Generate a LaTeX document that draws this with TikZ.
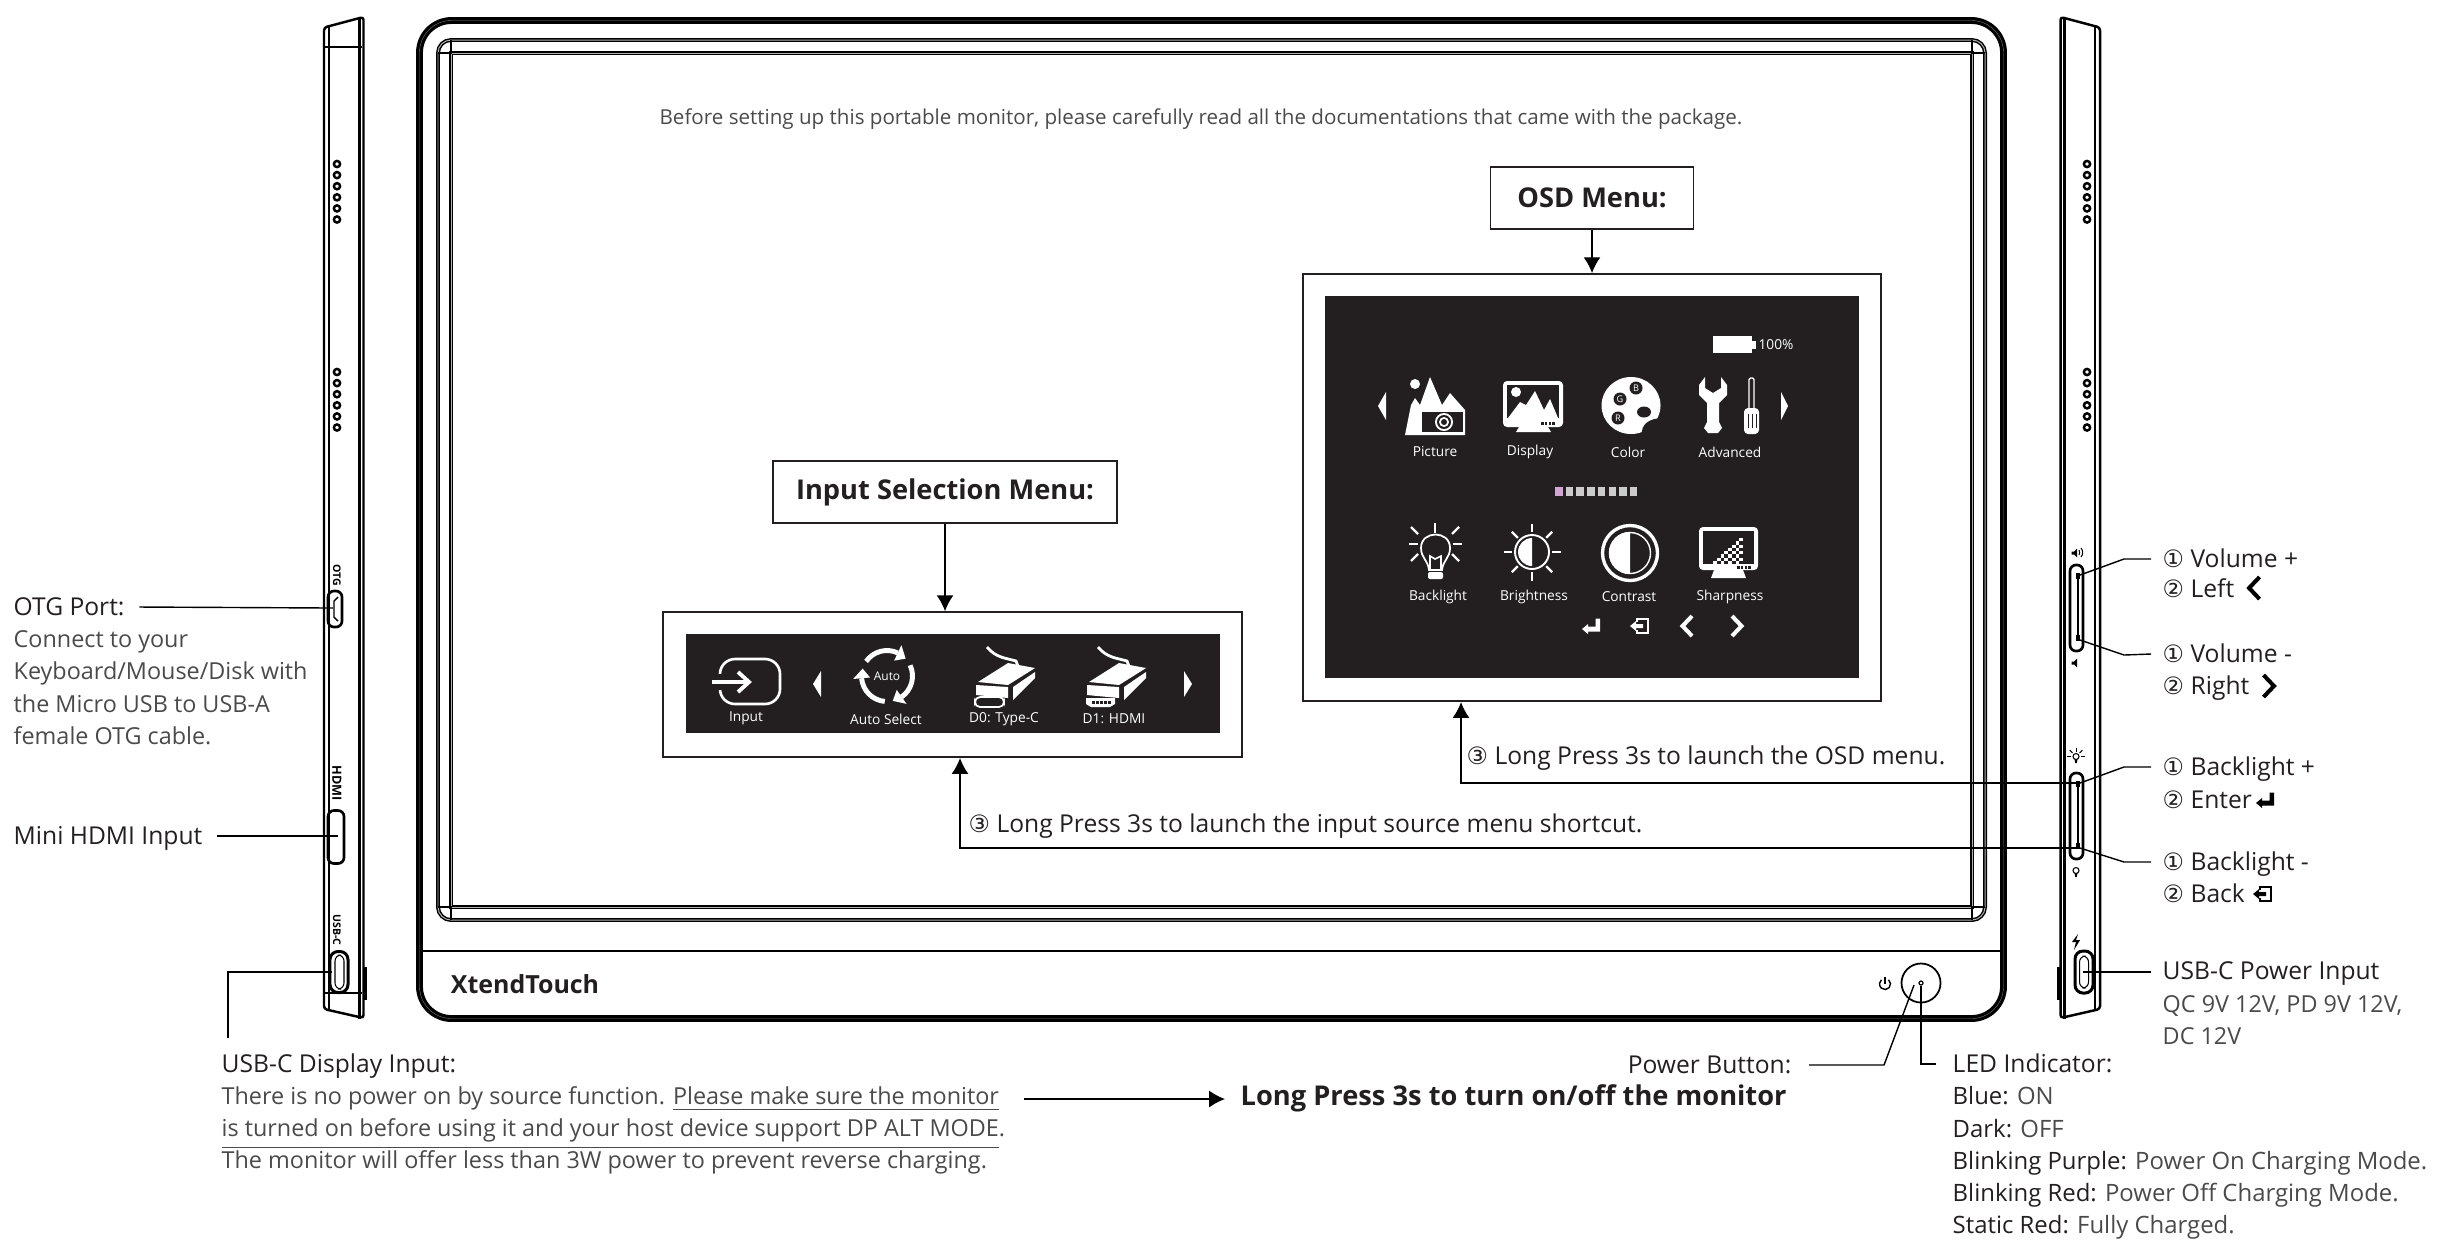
\documentclass[tikz,border=0pt]{standalone}
\usepackage{fontspec}
\setmainfont{Open Sans}
\newfontfamily\symfont{DejaVu Sans}
\usetikzlibrary{positioning,arrows.meta,calc}
\definecolor{panel}{HTML}{231F20}
\definecolor{softink}{HTML}{4A4A4A}
\newcommand{\bodyfont}{\fontsize{7}{9.15}\selectfont}
\newcommand{\softfont}{\fontsize{6.65}{9.15}\selectfont}
\newcommand{\panelfont}{\fontsize{3.9}{5}\selectfont}
\newcommand{\soft}[1]{\textcolor{softink}{#1}}
\newcommand{\circnum}[1]{{\symfont\fontsize{6.8}{9}\selectfont #1}}
\tikzset{
  bodytext/.style={inner sep=0,text=panel,font=\bodyfont,anchor=west,text height=6.3pt,text depth=1.25pt},
  blocktext/.style={inner sep=0,text=softink,font=\softfont,anchor=north west,align=left},
  titlebox/.style={draw=panel,line width=0.4pt,fill=white,inner sep=0,font=\fontsize{7.75}{9}\selectfont\bfseries,text=panel},
  menubox/.style={draw=panel,line width=0.45pt,inner sep=0},
  menulabel/.style={inner sep=0,text=white,font=\panelfont},
  keybox/.style={draw,line width=0.75pt,rounded corners=0.06cm,inner sep=0,minimum width=0.13cm,minimum height=0.86cm},
  portlabel/.style={inner sep=0,rotate=-90,font=\fontsize{3}{3}\selectfont\bfseries},
  framepen/.style={draw=black,line width=0.93pt,double=gray,double distance=0.1pt},
  bezelpen/.style={draw=black,line width=0.42pt,double=gray!60,double distance=0.28pt},
  % Seitenansicht, Koordinaten der rechten Seite
  sideshell/.pic={
    \draw[line width=0.7pt,rounded corners=0.03cm] (2060.5,1018) -- (2060.5,17) -- (2100,27.5) -- (2100,1009) -- cycle;
    \draw[line width=0.6pt] (2064.5,18) -- (2064.5,1019);
    \draw[line width=0.45pt] (2095,27) -- (2095,1010);
    \fill (2057,967) rectangle (2060,1000);
    \foreach \y in {0,...,5} {
      \draw[line width=0.7pt] (2087,164+11.1*\y) circle (3.1);
      \draw[line width=0.7pt] (2087,372+11.1*\y) circle (3.1);
    }
  },
  enterkey/.pic={
    \fill (9,-7.5) -- (9,5.5) -- (-3,5.5) -- (-3,8) -- (-9,3) -- (-3,-2) -- (-3,0.5) -- (4.5,0.5) -- (4.5,-7.5) -- cycle;
  },
  backkey/.pic={
    \draw[line width=0.8pt] (-3,-4) -- (-3,-7) -- (8,-7) -- (8,7) -- (-3,7) -- (-3,4);
    \fill (-10,0) -- (-4,-5) -- (-4,-2) -- (3,-2) -- (3,2) -- (-4,2) -- (-4,5) -- cycle;
  },
  leftchev/.pic={
    \draw[line width=1.15pt] (5,-10) -- (-4.5,0) -- (5,10);
  },
  speakerkey/.pic={
    \fill (-4.5,-1.5) -- (-2,-1.5) -- (1,-4.5) -- (1,4.5) -- (-2,1.5) -- (-4.5,1.5) -- cycle;
  },
  tinybulb/.pic={
    \draw[line width=0.3pt] (0,-1.5) circle (3);
    \fill (-1.5,1) -- (1.5,1) -- (0.8,5) -- (-0.8,5) -- cycle;
  },
  plugbody/.pic={
    \draw[line width=0.8pt] (13,1) .. controls (22,12) and (32,12) .. (42,15) -- (45,23);
    \fill (4,36) -- (34,17) -- (61,22) -- (34,39) -- cycle;
    \fill (39,41) -- (61,26) -- (61,32) -- (39,54) -- cycle;
    \fill (2,39) -- (34,41) -- (34,52) -- (2,49) -- cycle;
  },
}
\begin{document}
\begin{tikzpicture}[>={Latex[length=4.5pt,width=4.8pt]},x=0.01cm,y=-0.01cm]
\useasboundingbox (0,0) rectangle (2443,1241);
% Monitor vorne
\draw[framepen,rounded corners=0.32cm] (419.5,20.5) rectangle (2003.5,1018.5);
\draw[line width=0.75pt] (422,951) -- (2001,951);
\draw[bezelpen,rounded corners=0.13cm] (438,40) rectangle (1985,920);
\draw[bezelpen] (451,53) rectangle (1972,907);
\foreach \x/\y/\u/\v in {451/53/438/40,1972/53/1985/40,451/907/438/920,1972/907/1985/920} {
  \draw[line width=0.4pt] (\x,\v) -- (\x,\y) -- (\u,\y);
}
\node (hint) [bodytext,anchor=center,text=softink,font=\fontsize{5.85}{8}\selectfont] at (1201,116) {Before setting up this portable monitor, please carefully read all the documentations that came with the package.};
\node (brand) [inner sep=0,text=panel,font=\fontsize{7.1}{8}\selectfont\bfseries] at (525,984) {XtendTouch};
% Power-Taste
\node (powerbtn) [draw,circle,line width=0.5pt,inner sep=0,minimum size=0.39cm] at (1921,983) {};
\node (ledspot) [draw,circle,line width=0.35pt,inner sep=0,minimum size=0.04cm] at (1921,983) {};
\draw[line width=0.4pt] (1885,984) ++(-50:5.5) arc[start angle=-50,end angle=230,radius=5.5];
\draw[line width=0.4pt] (1885,977) -- (1885,984);
% Kasten OSD
\node (osdtitle) [titlebox,minimum width=2.03cm,minimum height=0.62cm] at (1592,198) {OSD Menu:};
\node (osdbox) [menubox,minimum width=5.78cm,minimum height=4.27cm] at (1592,487.5) {};
\draw[->] (osdtitle.south) -- (osdbox.north);
\fill[panel] (1325,296) rectangle (1859,678);
% Kasten Eingang
\node (inputtitle) [titlebox,minimum width=3.44cm,minimum height=0.62cm] at (945,492) {Input Selection Menu:};
\node (inputbox) [menubox,minimum width=5.79cm,minimum height=1.45cm] at (952.5,684.5) {};
\draw[->] (inputtitle.south) -- (inputtitle.south |- inputbox.north);
\fill[panel] (686,634) rectangle (1220,733);
% Beschriftungen in den Menues
\foreach \n/\x/\y/\t in {oPicture/1435/452/Picture,oDisplay/1530/452/Display,oColor/1628/452/Color,oAdvanced/1730/452/Advanced,
  oBacklight/1438/597/Backlight,oBrightness/1534/597/Brightness,oContrast/1629/597/Contrast,oSharpness/1730/597/Sharpness,
  oBattery/1776/345/100\%,iInput/746/718/Input,iAuto/886/719/Auto Select,iTypeC/1004/719/D0: Type-C,iHdmi/1114/719/D1: HDMI} {
  \node (\n) [menulabel] at (\x,\y) {\t};
}
% Pfeilchen im OSD
\foreach \a/\b in {1378/1386,1788/1781} \fill[white] (\a,406) -- (\b,392) -- (\b,420) -- cycle;
\foreach \a/\b in {813/821,1192/1184} \fill[white] (\a,684) -- (\b,671) -- (\b,697) -- cycle;
% Batterie und Leiste
\fill[white] (1713,336) rectangle (1752,353);
\fill[white] (1752,341) rectangle (1756,349);
\foreach \i in {0,...,7} \fill[gray!40] (1555+10.7*\i,487) rectangle ++(7.5,9);
\fill[violet!35] (1555,487) rectangle ++(7.5,9);
% Picture
\begin{scope}[white]
\fill (1415,384) circle (5);
\fill (1405,435) -- (1411,405) -- (1415,398) -- (1420,405) -- (1430,377) -- (1442,405) -- (1450,393) -- (1465,410) -- (1465,435) -- cycle;
\fill[panel] (1422,412) rectangle (1463,432);
\fill (1444,422) circle (9);
\fill[panel] (1444,422) circle (7);
\fill (1444,422) circle (5);
\fill[panel] (1444,422) circle (3);
% Display
\fill[rounded corners=0.04cm] (1503,381) rectangle (1563,427);
\fill[panel] (1507,385) rectangle (1559,418);
\fill (1519,427) -- (1548,427) -- (1551,432) -- (1516,432) -- cycle;
\fill (1516,392) circle (5);
\fill (1508,418) -- (1520,402) -- (1526,405) -- (1535,391) -- (1544,410) -- (1550,399) -- (1558,418) -- cycle;
\foreach \i in {0,...,3} \fill[panel] (1541+3.8*\i,422) rectangle ++(2.5,2.5);
% Color
\fill (1631,405.5) ellipse (29.5 and 28.5);
\fill[panel] (1642,436) .. controls (1640,424) and (1650,418) .. (1663,418) -- (1665,436) -- cycle;
\foreach \n/\x/\y/\t in {pB/1636/388/B,pG/1620/399/G,pR/1618/418/R} {
  \fill[panel] (\x,\y) circle (6.5);
  \node (\n) [inner sep=0,text=white,font=\fontsize{2.6}{3}\selectfont] at (\x,\y) {\t};
}
\fill[panel] (1644,412) ellipse (7 and 5.5);
% Advanced
\fill (1705,377) -- (1705,388) -- (1713,393) -- (1721,388) -- (1721,377) -- (1727,385) -- (1727,395) -- (1719,403) -- (1719,422) -- (1722,428) -- (1718,433) -- (1708,433) -- (1704,428) -- (1707,422) -- (1707,403) -- (1699,395) -- (1699,385) -- cycle;
\draw[line width=0.4pt,rounded corners=0.015cm] (1749,408) -- (1749,378) -- (1754,378) -- (1754,408);
\fill[rounded corners=0.04cm] (1744,408) rectangle (1759,434);
\foreach \x in {1748,1752,1756} \draw[panel,line width=0.2pt] (\x,414) -- (\x,428);
% Backlight
\draw[line width=0.5pt] (1429,570) .. controls (1428,560) and (1421,558) .. (1421,548) .. controls (1421,530) and (1450,530) .. (1450,548) .. controls (1450,558) and (1443,560) .. (1442,570) -- cycle;
\fill[rounded corners=0.02cm] (1428,572) rectangle (1443,579);
\draw[line width=0.45pt] (1430,570) -- (1430,556) -- (1435,559) -- (1441,556) -- (1441,570);
\foreach \a/\b/\c/\d in {1435/523/1435/533,1409/544/1418/544,1453/544/1462/544,1411/527/1418/534,1459/527/1452/534,1411/561/1418/554,1459/561/1452/554} {
  \draw[line width=0.65pt] (\a,\b) -- (\c,\d);
}
% Brightness
\draw[line width=0.55pt] (1532,552) circle (17);
\fill (1532,552) ++(90:14) arc[start angle=90,end angle=270,radius=14] -- cycle;
\foreach \a in {0,45,...,315} \draw[line width=0.65pt] (1532,552) ++(\a:20) -- ++(\a:8.5);
% Contrast
\draw[line width=0.95pt] (1630,553) circle (27.5);
\fill (1630,553) ++(90:21) arc[start angle=90,end angle=270,radius=21] -- cycle;
\draw[line width=0.4pt] (1630,553) circle (20.5);
% Sharpness
\fill[rounded corners=0.04cm] (1699,527) rectangle (1758,570);
\fill[panel] (1703,531) rectangle (1754,564);
\fill (1714,570) -- (1743,570) -- (1746,578) -- (1711,578) -- cycle;
\foreach \i in {0,...,3} \fill[panel] (1737+3.8*\i,566) rectangle ++(2.5,2.5);
\foreach \c in {0,...,7} \foreach \r in {0,...,\c} {
  \pgfmathtruncatemacro\oddcell{mod(\c+\r,2)}
  \ifnum\oddcell=0 \fill (1713+3.75*\c,561-3.3*\r) rectangle ++(3.75,3.3); \fi
}
% untere Symbole OSD
\pic at (1591,626) {enterkey};
\pic at (1640,626) {backkey};
\pic at (1687,626) {leftchev};
\pic[xscale=-1] at (1737,626) {leftchev};
% Input
\draw[line width=0.75pt,rounded corners=0.15cm] (720,659) rectangle (780,704);
\fill[panel] (712,674) rectangle (724,690);
\draw[line width=1.1pt] (712,682) -- (748,682);
\draw[line width=1.1pt] (738,672) -- (749,682) -- (738,692);
% Auto Select
\node (iAutoMark) [inner sep=0,font=\fontsize{3.4}{4}\selectfont,text=white] at (887,676) {Auto};
\foreach \s/\e in {-145/-65,-25/55,95/175} {
  \draw[line width=1.4pt] (887,676) ++(\s:25.5) arc[start angle=\s,end angle=\e,radius=25.5];
  \fill (887,676) ++(\e:17) -- ++(\e:17) -- ($(887,676)+(\e+22:25.5)$) -- cycle;
}
% Stecker
\pic at (974,646) {plugbody};
\pic at (1085,646) {plugbody};
\draw[line width=0.5pt,rounded corners=0.05cm] (975,697) rectangle (1004,707);
\fill (1086,698) -- (1115,698) -- (1115,704) -- (1110,707) -- (1091,707) -- (1086,704) -- cycle;
\foreach \i in {0,...,4} \fill[panel] (1092+4*\i,701) rectangle ++(2.5,2.5);
\end{scope}
% Seitenansichten
\pic at (0,0) {sideshell};
\pic[xscale=-1] at (2424,0) {sideshell};
\draw[line width=0.35pt] (325,47) -- (362,47);
\draw[line width=0.35pt] (325,993) -- (362,993);
% Anschluesse links
\node (otgport) [keybox,minimum width=0.14cm,minimum height=0.36cm] at (335,609) {};
\node (hdmiport) [keybox,minimum width=0.16cm,minimum height=0.53cm] at (336,837) {};
\node (usbdisplayport) [keybox,line width=0.85pt,rounded corners=0.08cm,minimum width=0.18cm,minimum height=0.41cm] at (339,972) {};
\draw[rounded corners=0.06cm,line width=0.3pt] (335,955) rectangle (344,989);
\draw[line width=0.4pt] (338,597) -- (334,601) -- (334,617) -- (338,621);
\node (otgtag) [portlabel] at (337,575) {OTG};
\node (hdmitag) [portlabel,font=\fontsize{3.6}{4}\selectfont\bfseries] at (337,783) {HDMI};
\node (usbtag) [portlabel] at (337,930) {USB-C};
% Tasten rechts
\node (volumekey) [keybox] at (2076.5,608) {};
\node (backlightkey) [keybox] at (2076.5,816) {};
\node (usbpowerport) [keybox,line width=0.85pt,rounded corners=0.08cm,minimum width=0.18cm,minimum height=0.42cm] at (2084,972) {};
\draw[rounded corners=0.06cm,line width=0.3pt] (2079.5,956) rectangle (2088.5,988);
\foreach \k in {573,781} {
  \draw[line width=0.45pt] (2078,\k) -- (2078,\k+68);
  \fill (2076,\k) rectangle ++(4,6);
  \fill (2076,\k+62) rectangle ++(4,6);
}
\pic at (2076,553) {speakerkey};
\draw[line width=0.3pt] (2079,550) arc[start angle=-30,end angle=30,radius=5];
\draw[line width=0.3pt] (2081,548) arc[start angle=-40,end angle=40,radius=7];
\pic at (2076,663) {speakerkey};
\pic at (2076,758) {tinybulb};
\foreach \a in {180,225,270,315,0} \draw[line width=0.3pt] (2076,756.5) ++(\a:5) -- ++(\a:4);
\pic at (2076,872) {tinybulb};
\fill (2078,934) -- (2072,942) -- (2076,942) -- (2074,950) -- (2080,940) -- (2076,940) -- cycle;
% Texte links
\node (otglabel) [bodytext] at (13,607) {OTG Port:};
\node (otgnote) [blocktext] at (13,630) {Connect to your\\Keyboard/Mouse/Disk with\\the Micro USB to USB-A\\female OTG cable.};
\node (hdmilabel) [bodytext] at (13,836) {Mini HDMI Input};
\coordinate (otgpin) at (333,608);
\coordinate (hdmipin) at (338,836);
\coordinate (usbcpin) at (332,972);
\coordinate (usbcfoot) at (228,1038);
\draw ([xshift=0.14cm]otglabel.east) -- (otgpin);
\draw ([xshift=0.14cm]hdmilabel.east) -- (hdmipin);
\draw (usbcfoot) |- (usbcpin);
% Texte unten
\node (usbtitle) [bodytext] at (221,1064) {USB-C Display Input:};
\node (usbnote) [blocktext] at (221,1086) {There is no power on by source function. \underline{Please make sure the monitor}\\\underline{is turned on before using it and your host device support DP ALT MODE}.\\The monitor will offer less than 3W power to prevent reverse charging.};
\node (longpress) [bodytext,anchor=west,font=\fontsize{7.75}{9}\selectfont\bfseries] at (1240,1097) {Long Press 3s to turn on/off the monitor};
\coordinate (notepin) at (1024,1099);
\coordinate (notetip) at (1225,1099);
\draw[->] (notepin) -- (notetip);
\node (powerlabel) [bodytext,anchor=east] at (1792,1065) {Power Button:};
\coordinate (powerknee) at (1884,1065);
\draw ([xshift=0.17cm]powerlabel.east) -- (powerknee) -- (1914,985);
\node (ledlabel) [bodytext] at (1952,1064) {LED Indicator:};
\draw (ledspot) |- ([xshift=-0.16cm]ledlabel.west);
\node (lednote) [blocktext,text=panel,font=\fontsize{6.8}{9.15}\selectfont] at (1952,1086) {Blue: \soft{ON}\\Dark: \soft{OFF}\\Blinking Purple: \soft{Power On Charging Mode.}\\Blinking Red: \soft{Power Off Charging Mode.}\\Static Red: \soft{Fully Charged.}};
% Texte rechts
\foreach \n/\y/\t in {volplus/559/{\circnum{①} Volume +},volleft/589/{\circnum{②} Left},volminus/654/{\circnum{①} Volume -},volright/686/{\circnum{②} Right},
  blplus/767/{\circnum{①} Backlight +},blenter/800/{\circnum{②} Enter},blminus/862/{\circnum{①} Backlight -},blback/894/{\circnum{②} Back},usbinput/971/USB-C Power Input} {
  \node (\n) [bodytext] at (2162,\y) {\t};
}
\node (usbrates) [blocktext] at (2162,995) {QC 9V 12V, PD 9V 12V,\\DC 12V};
\pic[scale=1.1] at (2254,588) {leftchev};
\pic[xscale=-1.1,yscale=1.1] at (2269,686) {leftchev};
\pic at (2265,800) {enterkey};
\pic at (2263,894) {backkey};
% Linien zu den Tasten
\coordinate (volA) at (2080,575);
\coordinate (volB) at (2080,640);
\coordinate (litA) at (2080,783);
\coordinate (litB) at (2080,848);
\coordinate (usbpin) at (2083,972);
\draw (volA) -- (2124,559) -- ([xshift=-0.11cm]volplus.west);
\draw (volB) -- (2124,655) -- ([xshift=-0.11cm]volminus.west);
\draw (litA) -- (2124,767) -- ([xshift=-0.11cm]blplus.west);
\draw (litB) -- (2124,862) -- ([xshift=-0.11cm]blminus.west);
\draw (usbpin) -- ([xshift=-0.11cm]usbpin -| usbinput.west);
% lange Pfeile
\node (osdnote) [bodytext] at (1466,756) {\circnum{③} Long Press 3s to launch the OSD menu.};
\node (inputnote) [bodytext] at (968,824) {\circnum{③} Long Press 3s to launch the input source menu shortcut.};
\coordinate (osdentry) at (1461,702);
\coordinate (inputentry) at (960,758);
\draw[->] (litA) -| (osdentry);
\draw[->] (litB) -| (inputentry);
\end{tikzpicture}
\end{document}
